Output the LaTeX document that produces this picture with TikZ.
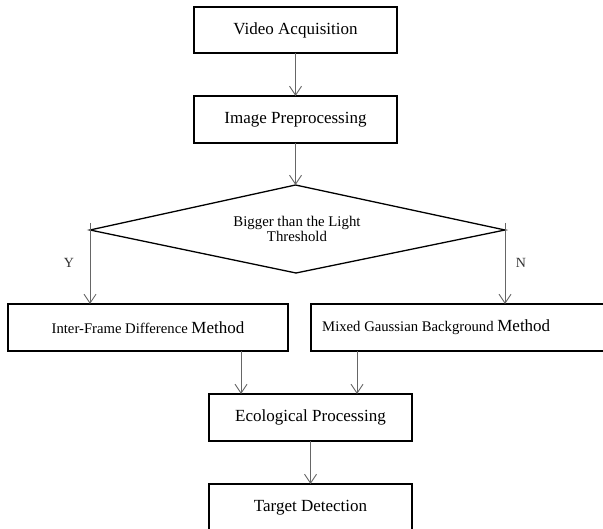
\documentclass[tikz,border=0pt]{standalone}
\usepackage{fontspec}
\setmainfont{Liberation Serif}
\usetikzlibrary{arrows.meta}
\begin{document}
\begin{tikzpicture}[x=1pt,y=-1pt,
  box/.style={draw=black,line width=1.3pt,inner sep=0pt,outer sep=0pt,font=\fontsize{17}{19}\selectfont},
  conn/.style={draw=black!60,line width=0.9pt,-{Straight Barb[length=9pt,width=12pt]}},
  lbl/.style={font=\fontsize{14}{16}\selectfont,text=black!80}]
\clip (0,0) rectangle (603,529);
\fill[white] (0,0) rectangle (603,529);
\node[box,minimum width=203pt,minimum height=46pt] (video) at (295.5,30) {Video Acquisition};
\node[box,minimum width=203pt,minimum height=47pt] (image) at (295.5,119.5) {Image Preprocessing};
\coordinate (dtop) at (295.5,185);
\coordinate (dleft) at (90,230);
\coordinate (dright) at (505,230);
\coordinate (dbottom) at (296,273);
\draw[line width=1.3pt,line join=miter] (dtop) -- (dright) -- (dbottom) -- (dleft) -- cycle;
\node[align=center,inner sep=0pt,font=\fontsize{14.8}{13}\selectfont] (dec) at (297,229) {Bigger than the Light\\Threshold};
\node[box,minimum width=280pt,minimum height=47pt] (inter) at (148,327.5) {\fontsize{14.7}{17}\selectfont Inter-Frame Difference \fontsize{17}{19}\selectfont Method};
\node[box,minimum width=300pt,minimum height=47pt] (mixed) at (461,327.5) {};
\node[anchor=west,inner sep=0pt] (mixedtext) at (322,327.5) {\fontsize{14.7}{17}\selectfont Mixed Gaussian Background \fontsize{17}{19}\selectfont Method};
\node[box,minimum width=203pt,minimum height=47pt] (eco) at (310.5,417.5) {Ecological Processing};
\node[box,minimum width=203pt,minimum height=48pt] (target) at (310.5,508) {Target Detection};
\coordinate (ystart) at (90,223);
\coordinate (nstart) at (505,223);
\coordinate (lcol) at (241,0);
\coordinate (rcol) at (357,0);
\node[lbl] (ylab) at (69,263) {Y};
\node[lbl] (nlab) at (521,263) {N};
\draw[conn] (video.south) -- (image.north);
\draw[conn] (image.south) -- (dtop);
\draw[conn] (ystart) -- (ystart |- inter.north);
\draw[conn] (nstart) -- (nstart |- mixed.north);
\draw[conn] (inter.south -| lcol) -- (eco.north -| lcol);
\draw[conn] (mixed.south -| rcol) -- (eco.north -| rcol);
\draw[conn] (eco.south) -- (target.north);
\end{tikzpicture}
\end{document}
